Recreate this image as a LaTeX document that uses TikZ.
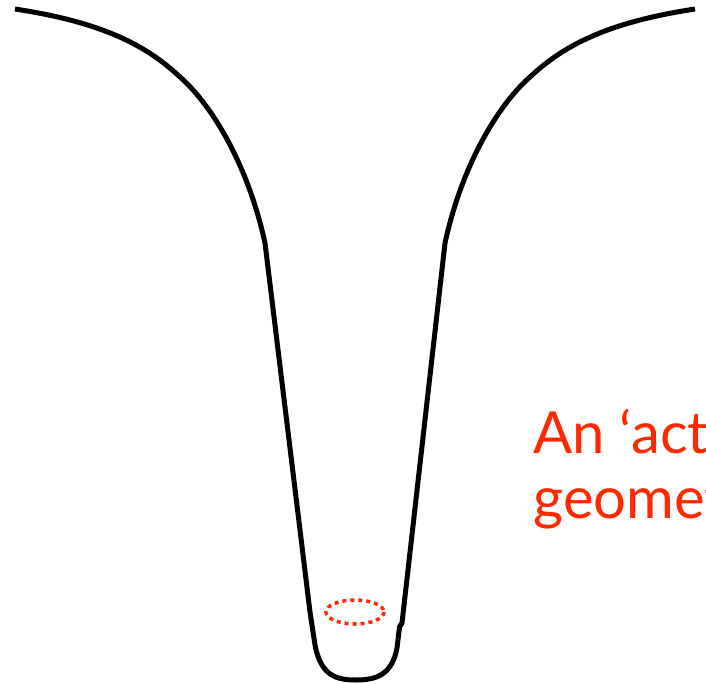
\documentclass[tikz,border=0pt]{standalone}
\usepackage{fontspec}
\setmainfont{Lato}
\definecolor{hot}{RGB}{255,40,0}
\begin{document}
\begin{tikzpicture}[x=1pt,y=-1pt,line width=5pt,
  note/.style={hot,anchor=base west,inner sep=0pt,font=\fontsize{58}{65}\selectfont}]
\useasboundingbox (0,0) rectangle (706,684);
% left wall of the well
\draw (15,9) .. controls (100,22) and (145,44) .. (180,77)
  .. controls (212,105) and (248,165) .. (265,243) -- (310,612);
% bottom of the well, with the small step on the right
\draw (310,612) -- (315,645) .. controls (321,677) and (338,680) .. (356,680)
  .. controls (376,680) and (392,675) .. (397,648) -- (399.5,627) -- (402,623) -- (445,243);
% right wall of the well
\draw (445,243) .. controls (462,165) and (498,105) .. (530,77)
  .. controls (565,44) and (610,22) .. (695,9);
% dotted loop at the bottom
\draw[hot,line width=3.5pt,dash pattern=on 4pt off 4pt] (355,612) ellipse [x radius=29,y radius=12];
\begin{scope}
\clip (0,0) rectangle (706,684);
\node[note] (line1) at (531,453) {An ‘act};
\node[note] (line2) at (531,518) {geomet};
\end{scope}
\end{tikzpicture}
\end{document}
